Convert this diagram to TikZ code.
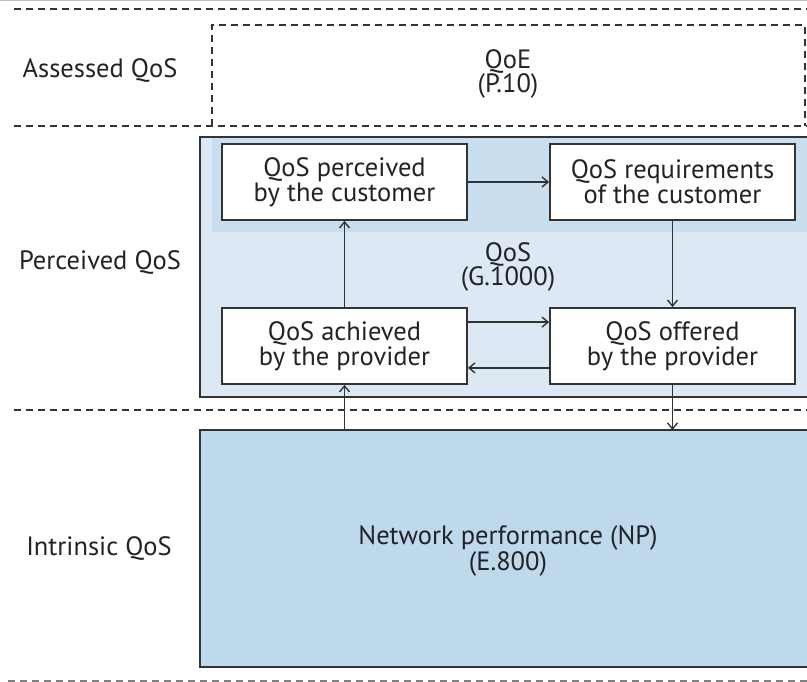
\documentclass[tikz,border=0pt]{standalone}
\usepackage{fontspec}
\setmainfont{PT Sans}
\usetikzlibrary{arrows.meta}
\definecolor{bandblue}{HTML}{C9DEEF}
\definecolor{paleblue}{HTML}{DCE9F5}
\definecolor{npblue}{HTML}{BFD9EC}
\definecolor{edge}{HTML}{333333}
\definecolor{ink}{HTML}{222228}
\tikzset{
  px/.style={x=1pt,y=-1pt},
  sep/.style={draw=edge,line width=1.5pt,dash pattern=on 7pt off 5pt},
  qbox/.style={draw=edge,line width=1.8pt,fill=white,minimum width=245pt,minimum height=76pt,
    align=center,font=\fontsize{26.5}{25}\selectfont,text=ink,inner sep=0pt},
  lbl/.style={font=\fontsize{26.5}{24.5}\selectfont,text=ink,align=center},
  conn/.style={draw=edge,line width=1.5pt,-{Straight Barb[length=6pt,width=10pt,line width=1.4pt]}},
}
\begin{document}
\begin{tikzpicture}[px]
\useasboundingbox (0,0) rectangle (807,682);
\draw[gray!50,line width=1pt] (0,0.5) -- (807,0.5);
% layer separators
\draw[sep] (14,9) -- (807,9);
\draw[sep] (14,126) -- (807,126);
\draw[sep] (14,410) -- (807,410);
\draw[sep,draw=gray] (8,681) -- (807,681);
% assessed layer
\draw[sep] (212,126) -- (212,25) -- (805,25) -- (805,126);
\node[lbl] (qoe) at (508,74) {QoE\\(P.10)};
% perceived layer
\filldraw[fill=paleblue,draw=edge,line width=1.8pt] (200,137) rectangle (812,397);
\fill[bandblue] (212,138) rectangle (807,232);
\node[lbl] (qos) at (508,267) {QoS\\(G.1000)};
\node[qbox] (perc) at (344.5,182) {QoS perceived\\by the customer};
\node[qbox] (req) at (672.5,182) {QoS requirements\\of the customer};
\node[qbox] (ach) at (344.5,346) {QoS achieved\\by the provider};
\node[qbox] (off) at (672.5,346) {QoS offered\\by the provider};
% intrinsic layer
\filldraw[fill=npblue,draw=edge,line width=1.8pt] (200,430) rectangle (812,667);
\node[lbl] (np) at (508,551) {Network performance (NP)\\(E.800)};
\coordinate (npa) at (344.5,430);
\coordinate (npo) at (672.5,430);
% left labels
\node[lbl] (la) at (100,70) {Assessed QoS};
\node[lbl] (lp) at (100,262) {Perceived QoS};
\node[lbl] (li) at (99,548) {Intrinsic QoS};
% connectors
\draw[conn] (perc.east) -- (req.west);
\draw[conn] (req.south) -- (off.north);
\draw[conn] ([yshift=-15pt]ach.north east) -- ([yshift=-15pt]off.north west);
\draw[conn] ([yshift=17pt]off.south west) -- ([yshift=17pt]ach.south east);
\draw[conn] (ach.north) -- (perc.south);
\draw[conn] (npa) -- (ach.south);
\draw[conn] (off.south) -- (npo);
\end{tikzpicture}
\end{document}
